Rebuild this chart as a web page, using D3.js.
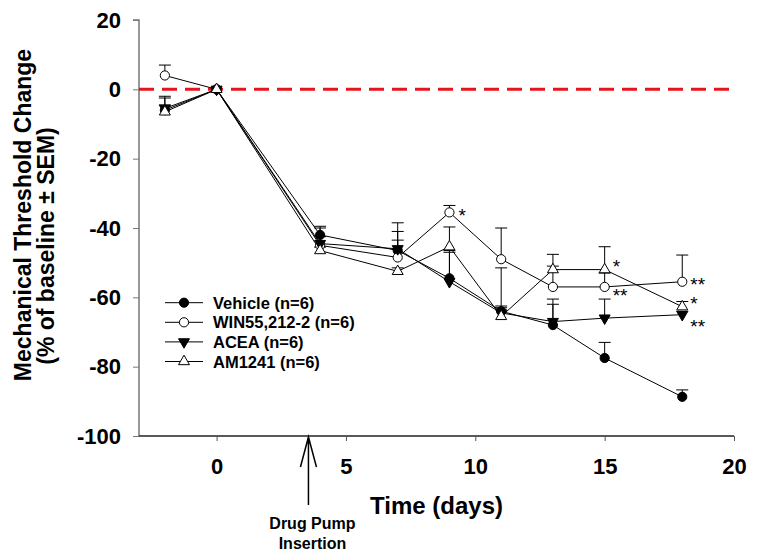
<!DOCTYPE html>
<html>
<head>
<meta charset="utf-8">
<title>Mechanical Threshold Change</title>
<script src="https://cdn.jsdelivr.net/npm/d3@7"></script>
<style>
  body { margin: 0; background: #fff; }
  svg { display: block; font-family: Arial, "Liberation Sans", sans-serif; }
  .tick-label { font-size: 22px; font-weight: bold; }
</style>
</head>
<body>
<div id="chart"></div>
<script>
// data (days vs % change, only the upper SEM is drawn)
var days = [-2, 0, 4, 7, 9, 11, 13, 15, 18];
var vehicle    = [-6, 0, -42, -46.5, -54.5, -64, -68, -77.5, -88.7];
var vehicleSem = [3.5, 0, 2.5, 3, 8, 1, 6, 4.5, 2];
var win        = [4, 0, -45, -48.5, -35.5, -49, -57, -57, -55.5];
var winSem     = [3, 0, 5, 10, 2, 9, 6, 4, 7.7];
var acea       = [-5.5, 0, -44.5, -46, -55.5, -64.5, -67, -66, -65];
var aceaSem    = [3.5, 0, 2, 5, 8.5, 2, 6.5, 5.5, 1];
var am1241     = [-6.5, 0, -46.5, -52.5, -45.4, -65.5, -52, -52, -62.7];
var am1241Sem  = [2, 0, 1, 1, 5.7, 14, 4.4, 6.6, 1.5];

var xTicks = [0, 5, 10, 15, 20];
var yTicks = [20, 0, -20, -40, -60, -80, -100];
var pumpDay = 3.55;

// significance marks: series name, day, label
var marks = [
  {s: "win", day: 9, label: "*"},
  {s: "am1241", day: 15, label: "*"},
  {s: "win", day: 15, label: "**"},
  {s: "win", day: 18, label: "**"},
  {s: "am1241", day: 18, label: "*"},
  {s: "acea", day: 18, label: "**"}
];

var series = [
  {key: "vehicle", name: "Vehicle (n=6)", vals: vehicle, sem: vehicleSem, shape: "circle", fill: "#000"},
  {key: "win", name: "WIN55,212-2 (n=6)", vals: win, sem: winSem, shape: "circle", fill: "#fff"},
  {key: "acea", name: "ACEA (n=6)", vals: acea, sem: aceaSem, shape: "down", fill: "#000"},
  {key: "am1241", name: "AM1241 (n=6)", vals: am1241, sem: am1241Sem, shape: "up", fill: "#fff"}
];

var W = 759, H = 560;
var svg = d3.select("#chart").append("svg").attr("width", W).attr("height", H);

var x = d3.scaleLinear().domain([-3, 20]).range([139, 734]);
var y = d3.scaleLinear().domain([-100, 20]).range([436, 20]);

// plain hyphen for negatives, like the original figure
var fmt = function(d) { return String(d); };

// axes
var yAxis = d3.axisLeft(y).tickValues(yTicks).tickSize(6).tickPadding(12).tickFormat(fmt);
var gy = svg.append("g").attr("transform", "translate(139,0)").call(yAxis);
gy.select(".domain").attr("stroke", "#777").attr("stroke-width", 1.5).attr("d", "M-6,20H0V436");
gy.selectAll(".tick line").attr("stroke", "#777");
gy.selectAll(".tick text").attr("class", "tick-label").attr("fill", "#000").attr("font-family", null).attr("font-size", null);

var xAxis = d3.axisBottom(x).tickValues(xTicks).tickSize(5).tickPadding(17).tickFormat(fmt);
var gx = svg.append("g").attr("transform", "translate(0,436)").call(xAxis);
gx.select(".domain").attr("stroke", "#222").attr("stroke-width", 1.5).attr("d", "M139,0H734");
gx.selectAll(".tick line").attr("stroke", "#555");
gx.selectAll(".tick text").attr("class", "tick-label").attr("fill", "#000").attr("font-family", null).attr("font-size", null);

// red zero line
svg.append("line")
  .attr("x1", 139).attr("x2", 734)
  .attr("y1", y(0)).attr("y2", y(0))
  .attr("stroke", "#e8141b").attr("stroke-width", 3)
  .attr("stroke-dasharray", "15,8");

function drawMarker(g, shape, fill, cx, cy) {
  if (shape === "circle") {
    g.append("circle").attr("cx", cx).attr("cy", cy).attr("r", 4.6)
      .attr("fill", fill).attr("stroke", "#000").attr("stroke-width", 1);
  } else {
    var sym = d3.symbol().type(d3.symbolTriangle).size(52);
    g.append("path").attr("d", sym)
      .attr("transform", "translate(" + cx + "," + cy + ")" + (shape === "down" ? " rotate(180)" : ""))
      .attr("fill", fill).attr("stroke", "#000").attr("stroke-width", 1);
  }
}

var line = d3.line().x(function(d, i) { return x(days[i]); }).y(function(d) { return y(d); });

series.forEach(function(s) {
  var g = svg.append("g");
  g.append("path").attr("d", line(s.vals)).attr("fill", "none").attr("stroke", "#000").attr("stroke-width", 1);
  s.vals.forEach(function(v, i) {
    if (s.sem[i] > 0) {
      var top = y(v + s.sem[i]);
      g.append("line").attr("x1", x(days[i])).attr("x2", x(days[i]))
        .attr("y1", y(v)).attr("y2", top).attr("stroke", "#000");
      g.append("line").attr("x1", x(days[i]) - 6).attr("x2", x(days[i]) + 6)
        .attr("y1", top).attr("y2", top).attr("stroke", "#000");
    }
  });
});
series.forEach(function(s) {
  var g = svg.append("g");
  s.vals.forEach(function(v, i) { drawMarker(g, s.shape, s.fill, x(days[i]), y(v)); });
});

// asterisks
var offs = {"win9": [9, 10], "am124115": [8, 3], "win15": [8, 15], "win18": [8, 9], "am124118": [8, 3], "acea18": [8, 18]};
marks.forEach(function(m) {
  var s = series.filter(function(d) { return d.key === m.s; })[0];
  var i = days.indexOf(m.day);
  var o = offs[m.s + m.day];
  svg.append("text").attr("x", x(m.day) + o[0]).attr("y", y(s.vals[i]) + o[1])
    .attr("font-size", "19px").text(m.label);
});

// legend
var leg = svg.append("g");
series.forEach(function(s, i) {
  var cy = 302.7 + i * 19.6;
  leg.append("line").attr("x1", 165).attr("x2", 203).attr("y1", cy).attr("y2", cy).attr("stroke", "#000");
  drawMarker(leg, s.shape, s.fill, 184, cy);
  leg.append("text").attr("x", 213).attr("y", cy + 6)
    .attr("font-size", "16.5px").attr("font-weight", "bold").text(s.name);
});

// axis titles
svg.append("text").attr("x", 436.5).attr("y", 514).attr("text-anchor", "middle")
  .attr("font-size", "24px").attr("font-weight", "bold").text("Time (days)");
svg.append("text").attr("transform", "translate(31,215) rotate(-90)").attr("text-anchor", "middle")
  .attr("font-size", "23px").attr("font-weight", "bold").text("Mechanical Threshold Change");
svg.append("text").attr("transform", "translate(54,246) rotate(-90)").attr("text-anchor", "middle")
  .attr("font-size", "23px").attr("font-weight", "bold").text("(% of baseline \u00b1 SEM)");

// drug pump arrow
var ax = x(pumpDay);
svg.append("path").attr("d", "M" + ax + ",505V437M" + (ax - 8) + ",467L" + ax + ",437L" + (ax + 8) + ",467")
  .attr("fill", "none").attr("stroke", "#000").attr("stroke-width", 1.5);
svg.append("text").attr("x", ax + 4).attr("y", 529).attr("text-anchor", "middle")
  .attr("font-size", "16px").attr("font-weight", "bold").text("Drug Pump");
svg.append("text").attr("x", ax + 4).attr("y", 549).attr("text-anchor", "middle")
  .attr("font-size", "16px").attr("font-weight", "bold").text("Insertion");
</script>
</body>
</html>
